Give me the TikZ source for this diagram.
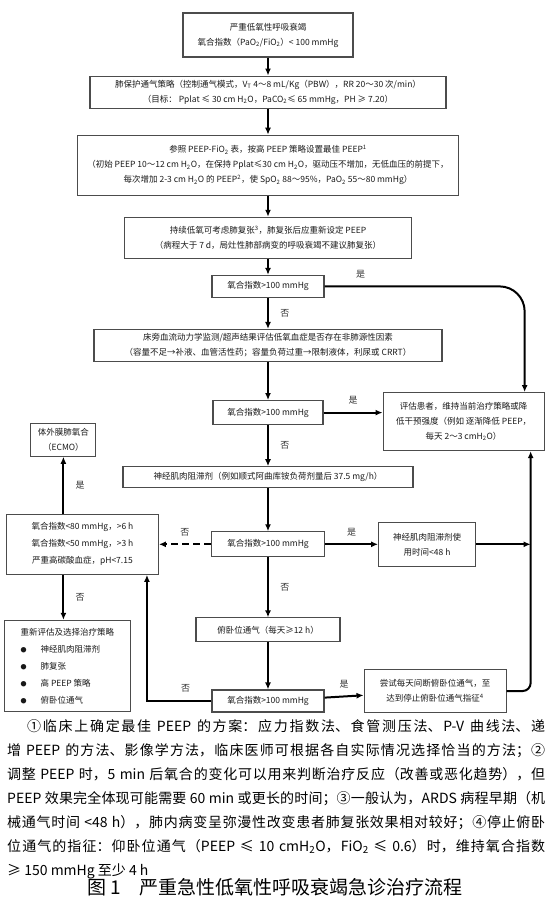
\documentclass[tikz,border=0pt]{standalone}
\usepackage{fontspec}
\setmainfont{Noto Sans CJK SC}
\usepackage{tikz}
\usetikzlibrary{positioning,arrows.meta}
\XeTeXlinebreaklocale "zh"
\XeTeXlinebreakskip = 0pt plus 1pt
\newcommand{\dotitem}{{\fontsize{6}{6}\selectfont ●}\hspace{14pt}}

\begin{document}
\begin{tikzpicture}[x=1pt, y=-1pt, font=\fontsize{8.5}{15}\selectfont,
    box/.style = {draw=black!70, line width=1.1pt, align=center, inner sep=2pt, text=black!90},
    arr/.style = {-{Latex[length=7pt,width=6pt]}, line width=2pt},
    lbl/.style = {font=\fontsize{9}{9}\selectfont, text=black!80}]
  \useasboundingbox (0,0) rectangle (555,900);
  % main column
  \node[box, minimum width=170pt, minimum height=44pt] (1) at (268,35) {严重低氧性呼吸衰竭\\氧合指数（PaO\textsubscript{2}/FiO\textsubscript{2}）< 100 mmHg};
  \node[box, minimum width=356pt, minimum height=32pt] (2) [below=18pt of 1] {肺保护通气策略（控制通气模式，V\textsubscript{T} 4～8 mL/Kg（PBW），RR 20～30 次/min）\\（目标： Pplat ≤ 30 cm H\textsubscript{2}O，PaCO\textsubscript{2}≤ 65 mmHg，PH ≥ 7.20）};
  \node[box, minimum width=381pt, minimum height=60pt] (3) [below=26pt of 2] {参照 PEEP-FiO\textsubscript{2} 表，按高 PEEP 策略设置最佳 PEEP\textsuperscript{1}\\（初始 PEEP 10～12 cm H\textsubscript{2}O，在保持 Pplat≤30 cm H\textsubscript{2}O，驱动压不增加，无低血压的前提下，\\每次增加 2-3 cm H\textsubscript{2}O 的 PEEP\textsuperscript{2}，使 SpO\textsubscript{2} 88～95\%，PaO\textsubscript{2} 55～80 mmHg）};
  \node[box, minimum width=287pt, minimum height=41pt] (4) [below=21pt of 3] {持续低氧可考虑肺复张\textsuperscript{3}，肺复张后应重新设定 PEEP\\（病程大于 7 d，局灶性肺部病变的呼吸衰竭不建议肺复张）};
  \node[box, minimum width=112pt, minimum height=22pt] (5) [below=16pt of 4] {氧合指数>100 mmHg};
  \node[box, minimum width=348pt, minimum height=32pt] (6) [below=31pt of 5] {床旁血流动力学监测/超声结果评估低氧血症是否存在非肺源性因素\\（容量不足→补液、血管活性药；容量负荷过重→限制液体，利尿或 CRRT）};
  \node[box, minimum width=110pt, minimum height=24pt] (7) [below=38pt of 6] {氧合指数>100 mmHg};
  \node[box, minimum width=290pt, minimum height=21pt] (8) [below=41pt of 7] {神经肌肉阻滞剂（例如顺式阿曲库铵负荷剂量后 37.5 mg/h）};
  \node[box, minimum width=113pt, minimum height=25pt] (9) [below=43pt of 8] {氧合指数>100 mmHg};
  \node[box, minimum width=144pt, minimum height=24pt] (10) [below=60pt of 9] {俯卧位通气（每天≥12 h）};
  \node[box, minimum width=112pt, minimum height=22pt] (11) [below=47pt of 10] {氧合指数>100 mmHg};
  % side boxes
  \node[box, minimum width=161pt, minimum height=58pt] (12) [right=59pt of 7, yshift=-9pt] {评估患者，维持当前治疗策略或降\\低干预强度（例如 逐渐降低 PEEP，\\每天 2～3 cmH\textsubscript{2}O）};
  \node[box, minimum width=152pt, minimum height=60pt, font=\fontsize{8.5}{17}\selectfont] (13) [left=52pt of 9] {氧合指数<80 mmHg，>6 h\\氧合指数<50 mmHg，>3 h\\严重高碳酸血症，pH<7.15};
  \node[box, minimum width=65pt, minimum height=33pt] (14) [above=57pt of 13, xshift=-19pt] {体外膜肺氧合\\（ECMO）};
  \node[box, minimum width=97pt, minimum height=44pt] (15) [right=53pt of 9] {神经肌肉阻滞剂使\\用时间<48 h};
  \node[box, minimum width=126pt, minimum height=91pt, align=left, font=\fontsize{8.5}{17}\selectfont] (16) [below=45pt of 13, xshift=-15pt] {重新评估及选择治疗策略\\\dotitem 神经肌肉阻滞剂\\\dotitem 肺复张\\\dotitem 高 PEEP 策略\\\dotitem 俯卧位通气};
  \node[box, minimum width=142pt, minimum height=43pt] (17) [right=39pt of 11, yshift=10pt] {尝试每天间断俯卧位通气，至\\达到停止俯卧位通气指征\textsuperscript{4}};
  \coordinate (q) at ([xshift=-20pt]12.north east);
  \coordinate (r) at ([xshift=-14pt]12.south east);
  % connectors
  \draw[arr] (1) -- (2);
  \draw[arr] (2) -- (3);
  \draw[arr] (3) -- (4);
  \draw[arr] (4) -- (5);
  \draw[arr] (5) -- node[lbl, right=8pt] {否} (6);
  \draw[arr, rounded corners=25pt] (5) -| node[lbl, pos=0.09, above=4pt] {是} (q);
  \draw[arr] (6) -- (7);
  \draw[arr] (7) -- node[lbl, above=4pt] {是} (12.west |- 7);
  \draw[arr] (7) -- node[lbl, right=8pt] {否} (8);
  \draw[arr] (8) -- (9);
  \draw[arr, dash pattern=on 7pt off 4pt] (9) -- node[lbl, above=4pt] {否} (13);
  \draw[arr] (9) -- node[lbl, above=4pt] {是} (15);
  \draw[arr] (13.north -| 14) -- node[lbl, right=8pt] {是} (14);
  \draw[arr] (13.south -| 14) -- node[lbl, right=8pt] {否} (16.north -| 14);
  \draw[arr] (9) -- node[lbl, right=8pt] {否} (10);
  \draw[arr] (15) -- (15 -| r);
  \draw[arr] (10) -- (11);
  \draw[arr] (11) -- node[lbl, above=4pt] {是} (17);
  \draw[arr] (11) -| node[lbl, pos=0.2, above=4pt] {否} ([xshift=-12pt]13.south east);
  \draw[arr, rounded corners=8pt] (17) -| (r);
  % notes
  \node[text width=538pt, align=justify, inner sep=0pt, anchor=north west, font=\fontsize{14}{24}\selectfont] (18) at (7,719) {\hspace*{20pt}①临床上确定最佳 PEEP 的方案：应力指数法、食管测压法、P-V 曲线法、递\linebreak
增 PEEP 的方法、影像学方法，临床医师可根据各自实际情况选择恰当的方法；②\linebreak
调整 PEEP 时，5 min 后氧合的变化可以用来判断治疗反应（改善或恶化趋势），但\linebreak
PEEP 效果完全体现可能需要 60 min 或更长的时间；③一般认为，ARDS 病程早期（机\linebreak
械通气时间 <48 h），肺内病变呈弥漫性改变患者肺复张效果相对较好；④停止俯卧\linebreak
位通气的指征：仰卧位通气（PEEP ≤ 10 cmH\textsubscript{2}O，FiO\textsubscript{2} ≤ 0.6）时，维持氧合指数\linebreak
≥ 150 mmHg 至少 4 h};
  \node[font=\fontsize{19}{19}\selectfont] (19) at (275,887) {图 1\quad 严重急性低氧性呼吸衰竭急诊治疗流程};
\end{tikzpicture}
\end{document}
